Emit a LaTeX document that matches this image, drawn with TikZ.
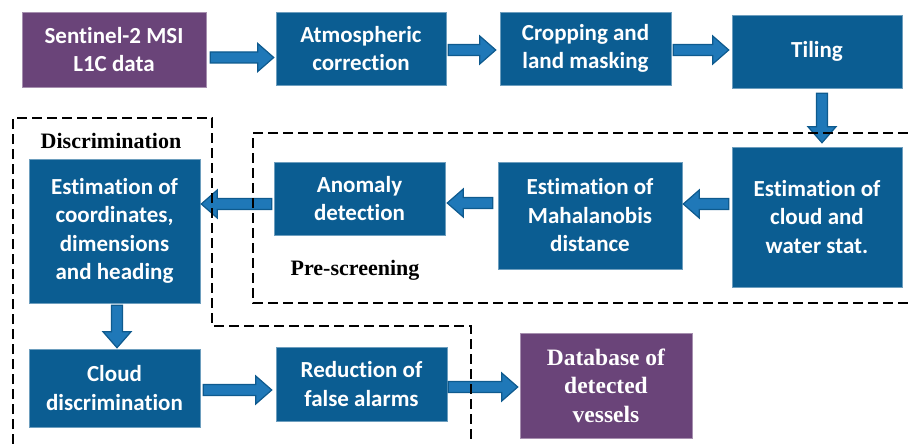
\documentclass[tikz,border=0pt]{standalone}
\usepackage{fontspec}
\setmainfont[Ligatures={NoCommon}]{Carlito}
\newfontfamily\timesf{Liberation Serif}
\usetikzlibrary{calc}
\definecolor{boxblue}{HTML}{0B5D92}
\definecolor{boxpurple}{HTML}{6A4479}
\definecolor{arrfill}{HTML}{1F78B8}
\definecolor{arredge}{HTML}{0E5A8E}
\begin{document}
\begin{tikzpicture}[x=1pt,y=-1pt,
  box/.style={fill=boxblue, draw=boxblue!60!white, line width=0.5pt, text=white,
    font=\bfseries\fontsize{23}{28.5}\selectfont, align=center, inner sep=0pt},
  pbox/.style={box, fill=boxpurple, draw=boxpurple!60!white},
  tbox/.style={pbox, font=\timesf\bfseries\fontsize{23.5}{28.5}\selectfont},
  blockarr/.style={fill=arrfill, draw=arredge, line width=1.2pt, line join=miter},
  harrow/.style={to path={let \p1=(\tikztostart), \p2=(\tikztotarget), \n1={sign(\x2-\x1)} in
    (\x1,\y1+5.5pt) -- ({\x2-(\n1)*16pt},\y1+5.5pt) -- ({\x2-(\n1)*16pt},\y1+14pt) -- (\x2,\y1)
    -- ({\x2-(\n1)*16pt},\y1-14pt) -- ({\x2-(\n1)*16pt},\y1-5.5pt) -- (\x1,\y1-5.5pt) -- cycle}},
  varrow/.style={to path={let \p1=(\tikztostart), \p2=(\tikztotarget), \n1={sign(\y2-\y1)} in
    (\x1-5.5pt,\y1) -- (\x1-5.5pt,{\y2-(\n1)*16pt}) -- (\x1-14pt,{\y2-(\n1)*16pt}) -- (\x1,\y2)
    -- (\x1+14pt,{\y2-(\n1)*16pt}) -- (\x1+5.5pt,{\y2-(\n1)*16pt}) -- (\x1+5.5pt,\y1) -- cycle}},
  grp/.style={line width=1.3pt, black, dash pattern=on 10pt off 5pt},
  lbl/.style={font=\timesf\bfseries\fontsize{22}{26}\selectfont, text=black, inner sep=0pt}
]
\useasboundingbox (0,0) rectangle (908,444);

\node[pbox, minimum width=184pt, minimum height=75pt] (s2) at (114,49.5) {Sentinel-2 MSI\\L1C data};
\node[box, minimum width=170pt, minimum height=73pt] (atm) at (361,48.5) {Atmospheric\\correction};
\node[box, minimum width=171pt, minimum height=73pt] (crop) at (585.5,48.5) {Cropping and\\land masking};
\node[box, minimum width=170pt, minimum height=73pt] (tile) at (817,51.5) {Tiling};
\node[box, minimum width=170pt, minimum height=140pt] (cws) at (817,217) {Estimation of\\cloud and\\water stat.};
\node[box, minimum width=184pt, minimum height=107pt] (mah) at (590,215.5) {Estimation of\\Mahalanobis\\distance};
\node[box, minimum width=171pt, minimum height=73pt] (anom) at (359.5,198.5) {Anomaly\\detection};
\node[box, minimum width=171pt, minimum height=144pt] (coord) at (114.5,231) {Estimation of\\coordinates,\\dimensions\\and heading};
\node[box, minimum width=171pt, minimum height=78pt] (cdis) at (114.5,388) {Cloud\\discrimination};
\node[box, minimum width=171pt, minimum height=74pt] (red) at (361.5,384) {Reduction of\\false alarms};
\node[tbox, minimum width=172pt, minimum height=105pt] (db) at (606,385.5) {Database of\\detected\\vessels};

\draw[blockarr] ([shift={(4,8)}]s2.east) to[harrow] ([shift={(-2,8)}]atm.west);
\draw[blockarr] ([shift={(2,1.5)}]atm.east) to[harrow] ([shift={(-4,1.5)}]crop.west);
\draw[blockarr] ([shift={(2,1.5)}]crop.east) to[harrow] ([shift={(-3,1.5)}]tile.west);
\draw[blockarr] ([shift={(5,5)}]tile.south) to[varrow] ([shift={(5,-4)}]cws.north);
\draw[blockarr] ([shift={(-3,-13)}]cws.west) to[harrow] ([shift={(1,-11.5)}]mah.east);
\draw[blockarr] ([shift={(-5,-12.5)}]mah.west) to[harrow] ([shift={(2,4.5)}]anom.east);
\draw[blockarr] ([shift={(-2,5.5)}]anom.west) to[harrow] ([shift={(1,-27)}]coord.east);
\draw[blockarr] ([shift={(2.5,2)}]coord.south) to[varrow] ([shift={(2.5,-1)}]cdis.north);
\draw[blockarr] ([shift={(3,2)}]cdis.east) to[harrow] ([shift={(-4,6)}]red.west);
\draw[blockarr] ([shift={(1,3)}]red.east) to[harrow] ([shift={(-2,1.5)}]db.west);

\coordinate (d1) at (13,444);
\coordinate (d2) at (13,118);
\coordinate (d3) at (212,118);
\coordinate (d4) at (212,326);
\coordinate (d5) at (471,326);
\coordinate (d6) at (471,444);
\draw[grp] (d1) -- (d2) -- (d3) -- (d4) -- (d5) -- (d6);
\coordinate (p1) at (908,133);
\coordinate (p2) at (253,133);
\coordinate (p3) at (253,303);
\coordinate (p4) at (908,303);
\draw[grp] (p1) -- (p2) -- (p3) -- (p4);

\node[lbl] (ldisc) at (111,141) {Discrimination};
\node[lbl] (lpre) at (355,270) {Pre-screening};
\end{tikzpicture}
\end{document}
